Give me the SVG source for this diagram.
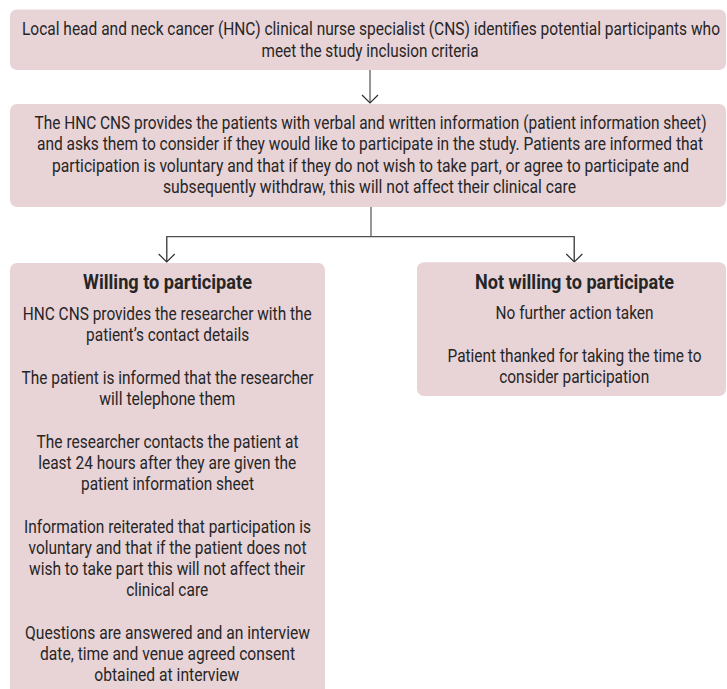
<svg xmlns="http://www.w3.org/2000/svg" width="727" height="689" viewBox="0 0 727 689">
<style>
.box{fill:#e8d3d7;stroke:none}
.t{font-family:Roboto,"Liberation Sans",sans-serif;font-size:17.5px;fill:#262626;text-anchor:middle}
.h{font-family:Roboto,"Liberation Sans",sans-serif;font-size:20px;font-weight:bold;fill:#262626;text-anchor:middle}
.c{fill:none;stroke:#505050;stroke-width:1.2}
</style>
<defs>
<marker id="arr" markerUnits="userSpaceOnUse" markerWidth="20" markerHeight="20" refX="10" refY="10" orient="auto" viewBox="0 0 20 20">
<path d="M2,2 L10,10 L2,18" fill="none" stroke="#303030" stroke-width="1.2"/>
</marker>
</defs>
<rect width="727" height="689" fill="#ffffff"/>
<g id="connectors">
<path class="c" d="M370,70 V103" marker-end="url(#arr)"/>
<path class="c" d="M371,207 V236.7"/>
<path class="c" d="M166.7,262 V236.7 H574.3 V262"/>
<path class="c" d="M166.7,236.7 V262" marker-end="url(#arr)"/>
<path class="c" d="M574.3,236.7 V262" marker-end="url(#arr)"/>
</g>
<g id="node-identify">
<rect class="box" x="10" y="9.5" width="716" height="60.5" rx="7"/>
<text class="t" transform="translate(371,35) scale(0.88,1)" textLength="793.2" lengthAdjust="spacingAndGlyphs">Local head and neck cancer (HNC) clinical nurse specialist (CNS) identifies potential participants who</text>
<text class="t" transform="translate(370,56.5) scale(0.88,1)" textLength="246.6" lengthAdjust="spacingAndGlyphs">meet the study inclusion criteria</text>
</g>
<g id="node-inform">
<rect class="box" x="10" y="104" width="716" height="103" rx="7"/>
<text class="t" transform="translate(370.5,129) scale(0.88,1)" textLength="763.6" lengthAdjust="spacingAndGlyphs">The HNC CNS provides the patients with verbal and written information (patient information sheet)</text>
<text class="t" transform="translate(370,150.3) scale(0.88,1)" textLength="756.8" lengthAdjust="spacingAndGlyphs">and asks them to consider if they would like to participate in the study. Patients are informed that</text>
<text class="t" transform="translate(370.5,171.6) scale(0.88,1)" textLength="723.9" lengthAdjust="spacingAndGlyphs">participation is voluntary and that if they do not wish to take part, or agree to participate and</text>
<text class="t" transform="translate(369.5,193) scale(0.88,1)" textLength="469.3" lengthAdjust="spacingAndGlyphs">subsequently withdraw, this will not affect their clinical care</text>
</g>
<g id="node-willing">
<rect class="box" x="10" y="263" width="315" height="440" rx="7"/>
<text class="h" transform="translate(167.5,289) scale(0.88,1)" textLength="192" lengthAdjust="spacingAndGlyphs">Willing to participate</text>
<text class="t" transform="translate(167.2,320) scale(0.88,1)" textLength="328.4" lengthAdjust="spacingAndGlyphs">HNC CNS provides the researcher with the</text>
<text class="t" transform="translate(167.6,341.2) scale(0.88,1)" textLength="185.2" lengthAdjust="spacingAndGlyphs">patient’s contact details</text>
<text class="t" transform="translate(167.5,383.7) scale(0.88,1)" textLength="331.8" lengthAdjust="spacingAndGlyphs">The patient is informed that the researcher</text>
<text class="t" transform="translate(167.2,405) scale(0.88,1)" textLength="154.5" lengthAdjust="spacingAndGlyphs">will telephone them</text>
<text class="t" transform="translate(167.5,447.5) scale(0.88,1)" textLength="297.7" lengthAdjust="spacingAndGlyphs">The researcher contacts the patient at</text>
<text class="t" transform="translate(167.2,468.7) scale(0.88,1)" textLength="293.2" lengthAdjust="spacingAndGlyphs">least 24 hours after they are given the</text>
<text class="t" transform="translate(167.5,490) scale(0.88,1)" textLength="196.6" lengthAdjust="spacingAndGlyphs">patient information sheet</text>
<text class="t" transform="translate(167.5,532.5) scale(0.88,1)" textLength="326.1" lengthAdjust="spacingAndGlyphs">Information reiterated that participation is</text>
<text class="t" transform="translate(167.5,553.7) scale(0.88,1)" textLength="315.9" lengthAdjust="spacingAndGlyphs">voluntary and that if the patient does not</text>
<text class="t" transform="translate(167,575) scale(0.88,1)" textLength="313.6" lengthAdjust="spacingAndGlyphs">wish to take part this will not affect their</text>
<text class="t" transform="translate(167.2,596.2) scale(0.88,1)" textLength="93.2" lengthAdjust="spacingAndGlyphs">clinical care</text>
<text class="t" transform="translate(167.5,638.7) scale(0.88,1)" textLength="323.9" lengthAdjust="spacingAndGlyphs">Questions are answered and an interview</text>
<text class="t" transform="translate(167.5,660) scale(0.88,1)" textLength="289.8" lengthAdjust="spacingAndGlyphs">date, time and venue agreed consent</text>
<text class="t" transform="translate(166.8,681.2) scale(0.88,1)" textLength="164.8" lengthAdjust="spacingAndGlyphs">obtained at interview</text>
</g>
<g id="node-notwilling">
<rect class="box" x="417" y="262.3" width="309" height="133.7" rx="7"/>
<text class="h" transform="translate(574.5,289) scale(0.88,1)" textLength="226.1" lengthAdjust="spacingAndGlyphs">Not willing to participate</text>
<text class="t" transform="translate(574.5,319) scale(0.88,1)" textLength="179.5" lengthAdjust="spacingAndGlyphs">No further action taken</text>
<text class="t" transform="translate(574.5,361.5) scale(0.88,1)" textLength="288.6" lengthAdjust="spacingAndGlyphs">Patient thanked for taking the time to</text>
<text class="t" transform="translate(574.2,382.7) scale(0.88,1)" textLength="170.5" lengthAdjust="spacingAndGlyphs">consider participation</text>
</g>
</svg>
